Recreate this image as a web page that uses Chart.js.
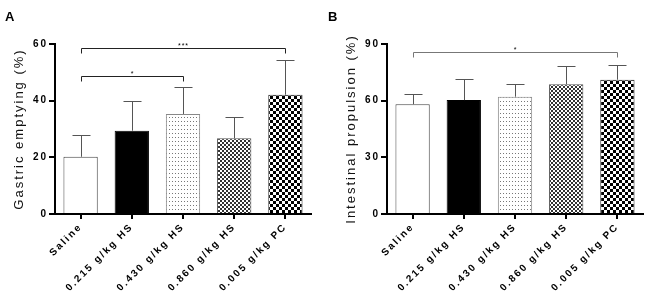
<!DOCTYPE html>
<html>
<head>
<meta charset="utf-8">
<script src="https://cdn.jsdelivr.net/npm/chart.js@4.4.1/dist/chart.umd.min.js"></script>
<style>
  body { margin: 0; background: #fff; width: 650px; height: 301px; overflow: hidden; position: relative; font-family: Arial, "Liberation Sans", sans-serif; }
  .panel { position: absolute; top: 0; width: 325px; height: 301px; }
  .tag { position: absolute; font-weight: bold; font-size: 13px; line-height: 13px; }
</style>
</head>
<body>
<div class="panel" style="left:0"><canvas id="chartA" width="325" height="301"></canvas></div>
<div class="panel" style="left:325px"><canvas id="chartB" width="325" height="301"></canvas></div>
<div class="tag" style="left:5px;top:10px">A</div>
<div class="tag" style="left:328px;top:10px">B</div>
<script>
// groups
const categories = ['Saline', '0.215 g/kg HS', '0.430 g/kg HS', '0.860 g/kg HS', '0.005 g/kg PC'];

// A: gastric emptying (%), mean and upper error
const gastricMean = [20.2, 29.4, 35.3, 26.7, 42.1];
const gastricErr = [7.6, 10.6, 9.4, 7.7, 12.1];
const gastricTicks = [0, 20, 40, 60];
// [from, to, level, label]
const gastricSig = [[0, 4, 58.5, '***'], [0, 2, 48.8, '*']];

// B: intestinal propulsion (%)
const intestinalMean = [58.1, 60.3, 62.1, 68.7, 71.1];
const intestinalErr = [5.6, 11.3, 6.6, 9.8, 7.8];
const intestinalTicks = [0, 30, 60, 90];
const intestinalSig = [[0, 4, 85.6, '*']];

Chart.defaults.font.family = 'Arial, "Liberation Sans", sans-serif';

// fill patterns for the bars
function makePattern(kind) {
    const c = document.createElement('canvas');
    const g = c.getContext('2d');
    if (kind === 'dots') {
        c.width = 3; c.height = 4;
        g.fillStyle = '#fff'; g.fillRect(0, 0, 3, 4);
        g.fillStyle = '#777'; g.fillRect(1, 1, 1, 1);
    } else if (kind === 'fine') {
        c.width = 4; c.height = 4;
        g.fillStyle = '#fff'; g.fillRect(0, 0, 4, 4);
        g.fillStyle = '#333'; g.fillRect(0, 0, 2, 2); g.fillRect(2, 2, 2, 2);
    } else {
        c.width = 6; c.height = 6;
        g.fillStyle = '#fff'; g.fillRect(0, 0, 6, 6);
        g.fillStyle = '#000'; g.fillRect(0, 0, 3, 3); g.fillRect(3, 3, 3, 3);
    }
    return g.createPattern(c, 'repeat');
}

const fills = ['#fff', '#000', makePattern('dots'), makePattern('fine'), makePattern('check')];
const edges = ['#444', '#000', '#888', '#555', '#333'];

// error bars + significance brackets
const extras = {
    id: 'extras',
    beforeDraw(chart) {
        chart.ctx.letterSpacing = '2px';
    },
    afterDatasetsDraw(chart, args, opts) {
        const ctx = chart.ctx;
        const y = chart.scales.y;
        const meta = chart.getDatasetMeta(0);
        const mean = chart.data.datasets[0].data;
        ctx.save();
        ctx.lineWidth = 1;
        ctx.strokeStyle = '#555';
        opts.err.forEach((e, i) => {
            const bar = meta.data[i];
            const x = Math.round(bar.x) + 0.5;
            const top = Math.round(y.getPixelForValue(mean[i] + e)) + 0.5;
            ctx.beginPath();
            ctx.moveTo(x, bar.y);
            ctx.lineTo(x, top);
            ctx.moveTo(x - 9, top);
            ctx.lineTo(x + 9, top);
            ctx.stroke();
        });
        ctx.strokeStyle = opts.sigColor;
        ctx.fillStyle = '#000';
        ctx.letterSpacing = '1px';
        ctx.font = '7px Arial, "Liberation Sans", sans-serif';
        ctx.textAlign = 'center';
        ctx.textBaseline = 'bottom';
        opts.sig.forEach(([a, b, v, label]) => {
            const x1 = Math.round(meta.data[a].x) + 0.5;
            const x2 = Math.round(meta.data[b].x) + 0.5;
            const py = Math.round(y.getPixelForValue(v)) + 0.5;
            ctx.beginPath();
            ctx.moveTo(x1, py + 5);
            ctx.lineTo(x1, py);
            ctx.lineTo(x2, py);
            ctx.lineTo(x2, py + 5);
            ctx.stroke();
            ctx.fillText(label, (x1 + x2) / 2, py + 1);
        });
        ctx.restore();
    }
};

function makeChart(id, values, errs, sig, ticks, yTitle, box) {
    return new Chart(document.getElementById(id), {
        type: 'bar',
        data: {
            labels: categories,
            datasets: [{
                data: values,
                backgroundColor: fills,
                borderColor: edges,
                borderWidth: 1,
                barPercentage: 0.67,
                categoryPercentage: 1
            }]
        },
        options: {
            responsive: false,
            animation: false,
            devicePixelRatio: 1,
            layout: { padding: { top: 44, right: box.right, bottom: 0, left: 0 } },
            plugins: {
                legend: { display: false },
                tooltip: { enabled: false },
                extras: { err: errs, sig: sig, sigColor: box.sigColor }
            },
            scales: {
                x: {
                    grid: { offset: false, drawOnChartArea: false, color: '#000', lineWidth: 2, tickLength: 5 },
                    border: { color: '#000', width: 2 },
                    ticks: { autoSkip: false, minRotation: 45, maxRotation: 45, color: '#000', font: { size: 10, weight: 'bold' }, padding: 2 },
                    afterFit: s => { s.height = 87; }
                },
                y: {
                    min: ticks[0],
                    max: ticks[ticks.length - 1],
                    ticks: { stepSize: ticks[1] - ticks[0], color: '#000', font: { size: 10, weight: 'bold' }, padding: 1 },
                    grid: { drawOnChartArea: false, color: '#000', lineWidth: 2, tickLength: 6 },
                    border: { color: '#000', width: 2 },
                    title: { display: true, text: yTitle, color: '#111', font: { size: 13 }, padding: { top: box.titlePad, bottom: 0 } },
                    afterFit: s => { s.width = box.left; }
                }
            }
        },
        plugins: [extras]
    });
}

makeChart('chartA', gastricMean, gastricErr, gastricSig, gastricTicks, 'Gastric emptying (%)',
    { left: 55, right: 14, titlePad: 12, sigColor: '#222' });
makeChart('chartB', intestinalMean, intestinalErr, intestinalSig, intestinalTicks, 'Intestinal propulsion (%)',
    { left: 62, right: 7, titlePad: 19, sigColor: '#777' });
</script>
</body>
</html>
